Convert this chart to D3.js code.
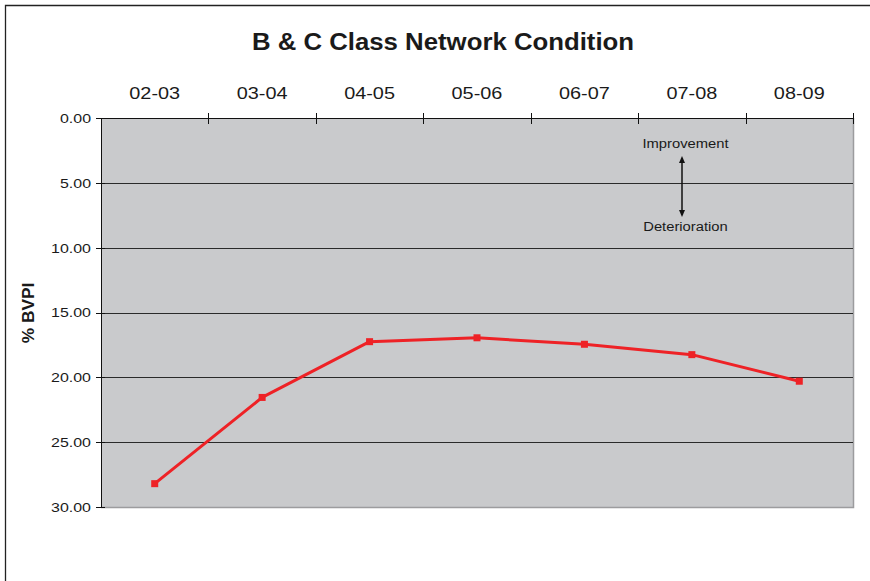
<!DOCTYPE html>
<html>
<head>
<meta charset="utf-8">
<script src="https://cdn.jsdelivr.net/npm/d3@7"></script>
<style>
  html, body { margin: 0; padding: 0; background: #fff; }
  svg { display: block; font-family: Arial, "Liberation Sans", sans-serif; }
</style>
</head>
<body>
<svg id="chart" width="870" height="581"></svg>
<script>
// Financial years shown across the top axis
const years = ["02-03", "03-04", "04-05", "05-06", "06-07", "07-08", "08-09"];
// % BVPI for B & C class roads (lower is better)
const bvpi = [28.2, 21.55, 17.25, 16.95, 17.45, 18.25, 20.3];
// Y axis tick values
const yTicks = [0, 5, 10, 15, 20, 25, 30];

const svg = d3.select("#chart");
const plot = { left: 101, right: 853, top: 118, bottom: 507 };

// Widen glyphs horizontally by a factor (the typeface used is a wide grotesque)
function widen(sel, factor) {
  sel.each(function () {
    const w = this.getComputedTextLength();
    d3.select(this).attr("textLength", w * factor).attr("lengthAdjust", "spacingAndGlyphs");
  });
  return sel;
}

// Outer frame (runs off the right and bottom edges)
svg.append("path")
  .attr("d", "M5.5,600 L5.5,5.5 L880,5.5")
  .attr("fill", "none").attr("stroke", "#222").attr("stroke-width", 1.3);

const x = d3.scaleBand().domain(years).range([plot.left, plot.right]);
const y = d3.scaleLinear().domain([0, 30]).range([plot.top, plot.bottom]);

// Plot background
svg.append("rect")
  .attr("x", plot.left).attr("y", plot.top)
  .attr("width", plot.right - plot.left).attr("height", plot.bottom - plot.top)
  .attr("fill", "#c9cacc");
svg.append("path")
  .attr("d", `M${plot.right + 0.5},${plot.top} V${plot.bottom + 0.5} H${plot.left}`)
  .attr("fill", "none").attr("stroke", "#9c9c9e").attr("stroke-width", 1.5);

// Horizontal gridlines
svg.append("g").selectAll("line")
  .data(yTicks.filter(d => d > 0 && d < 30))
  .join("line")
  .attr("x1", plot.left).attr("x2", plot.right)
  .attr("y1", d => Math.round(y(d)) + 0.5).attr("y2", d => Math.round(y(d)) + 0.5)
  .attr("stroke", "#2a2a2a").attr("stroke-width", 1);

// Left value axis with crossing tick marks
const yAxis = svg.append("g");
yAxis.append("line")
  .attr("x1", plot.left + 0.5).attr("x2", plot.left + 0.5)
  .attr("y1", plot.top).attr("y2", plot.bottom)
  .attr("stroke", "#111").attr("stroke-width", 1);
yAxis.selectAll("line.tick")
  .data(yTicks).join("line").attr("class", "tick")
  .attr("x1", plot.left - 5).attr("x2", plot.left + 4)
  .attr("y1", d => Math.round(y(d)) + 0.5).attr("y2", d => Math.round(y(d)) + 0.5)
  .attr("stroke", "#111");
const yLabels = yAxis.selectAll("text")
  .data(yTicks).join("text")
  .attr("x", plot.left - 10).attr("y", d => y(d))
  .attr("dy", "0.36em").attr("text-anchor", "end")
  .attr("font-size", 13.5).attr("fill", "#1a1a1a")
  .text(d => d3.format(".2f")(d));
widen(yLabels, 1.18);

// Top category axis
const xAxis = svg.append("g");
xAxis.append("line")
  .attr("x1", plot.left).attr("x2", plot.right + 1)
  .attr("y1", plot.top + 0.5).attr("y2", plot.top + 0.5)
  .attr("stroke", "#111").attr("stroke-width", 1.2);
const bounds = years.map(d => x(d)).concat([x(years[years.length - 1]) + x.bandwidth()]);
xAxis.selectAll("line.tick")
  .data(bounds.slice(1)).join("line").attr("class", "tick")
  .attr("x1", d => Math.round(d) + 0.5).attr("x2", d => Math.round(d) + 0.5)
  .attr("y1", plot.top - 5).attr("y2", plot.top + 6)
  .attr("stroke", "#111");
const xLabels = xAxis.selectAll("text")
  .data(years).join("text")
  .attr("x", d => x(d) + x.bandwidth() / 2).attr("y", 98.5)
  .attr("text-anchor", "middle")
  .attr("font-size", 16.3).attr("fill", "#1a1a1a")
  .text(d => d);
widen(xLabels, 1.22);

// Title
const title = svg.append("text")
  .attr("x", 443).attr("y", 50)
  .attr("text-anchor", "middle")
  .attr("font-size", 23).attr("font-weight", "bold").attr("fill", "#1a1a1a")
  .text("B & C Class Network Condition");
widen(title, 1.12);

// Y axis title
const yTitle = svg.append("text")
  .attr("transform", "translate(33.5,313) rotate(-90)")
  .attr("text-anchor", "middle")
  .attr("font-size", 16.3).attr("font-weight", "bold").attr("fill", "#1a1a1a")
  .text("% BVPI");
widen(yTitle, 1.06);

// Direction note
const note = svg.append("g");
const noteText = note.selectAll("text")
  .data([{ t: "Improvement", y: 148 }, { t: "Deterioration", y: 231 }])
  .join("text")
  .attr("x", 685.5).attr("y", d => d.y).attr("text-anchor", "middle")
  .attr("font-size", 12.3).attr("fill", "#1a1a1a").text(d => d.t);
widen(noteText, 1.2);
note.append("line")
  .attr("x1", 682).attr("x2", 682).attr("y1", 161).attr("y2", 212)
  .attr("stroke", "#111").attr("stroke-width", 1.5);
note.append("path").attr("d", "M682,156 L679,163 L685,163 Z").attr("fill", "#111");
note.append("path").attr("d", "M682,217 L679,210 L685,210 Z").attr("fill", "#111");

// Data line and markers
const pts = years.map((d, i) => ({ year: d, v: bvpi[i] }));
const cx = d => x(d.year) + x.bandwidth() / 2;
svg.append("path")
  .datum(pts)
  .attr("d", d3.line().x(cx).y(d => y(d.v)))
  .attr("fill", "none").attr("stroke", "#ee2226").attr("stroke-width", 3)
  .attr("stroke-linejoin", "round");
svg.append("g").selectAll("rect")
  .data(pts).join("rect")
  .attr("x", d => cx(d) - 3.5).attr("y", d => y(d.v) - 3.5)
  .attr("width", 7).attr("height", 7)
  .attr("fill", "#ee2226");
</script>
</body>
</html>
